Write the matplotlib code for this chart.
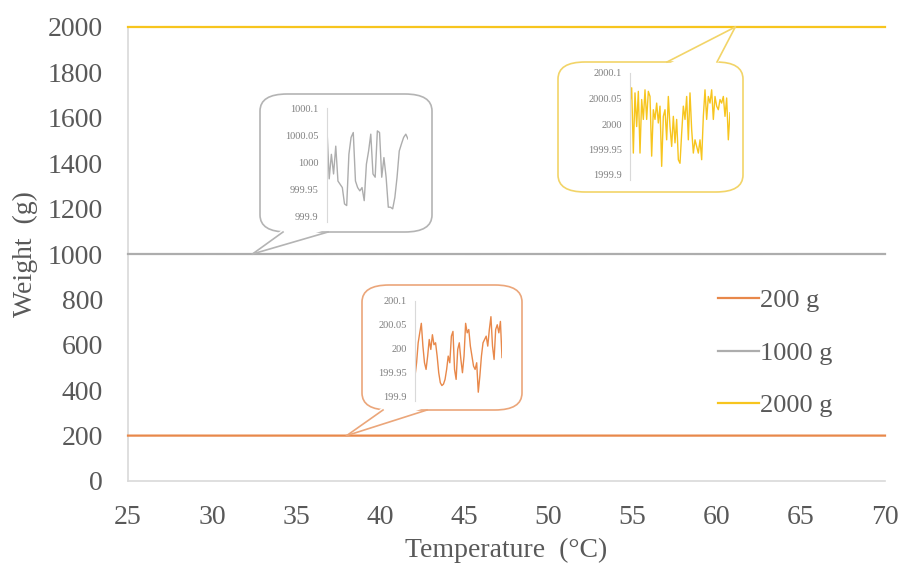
import numpy as np
import matplotlib
matplotlib.use("Agg")
import matplotlib.pyplot as plt
from matplotlib.patches import FancyBboxPatch, Polygon
from matplotlib.lines import Line2D

# weight readings (g)
w200 = [199.942, 199.970, 200.012, 200.033, 200.053, 200.005, 199.970, 199.956,
        199.984, 200.019, 199.998, 200.029, 200.008, 200.012, 199.984, 199.949,
        199.928, 199.922, 199.925, 199.935, 199.956, 199.984, 199.970, 200.026,
        200.036, 199.956, 199.935, 199.998, 200.012, 199.977, 199.949, 199.984,
        200.053, 200.033, 200.040, 200.005, 199.984, 199.963, 199.956, 199.970,
        199.908, 199.942, 199.984, 200.012, 200.019, 200.026, 200.005, 200.040,
        200.067, 200.005, 199.977, 200.040, 200.050, 200.033, 200.057, 199.981]
w1000 = [1000.061, 999.970, 1000.015, 999.979, 1000.030, 999.966, 999.960, 999.954,
         999.924, 999.921, 1000.015, 1000.046, 1000.055, 999.966, 999.954, 999.948,
         999.954, 999.930, 999.997, 1000.021, 1000.052, 999.979, 999.973, 1000.058,
         1000.055, 999.973, 1000.009, 999.973, 999.918, 999.918, 999.915, 999.936,
         999.973, 1000.021, 1000.034, 1000.046, 1000.052, 1000.043]
w2000 = [2000.041, 2000.071, 1999.943, 2000.061, 1999.995, 2000.064, 1999.943, 2000.048,
         2000.009, 2000.067, 2000.009, 2000.064, 2000.054, 1999.937, 2000.028, 2000.009,
         2000.041, 2000.002, 2000.035, 1999.917, 2000.015, 2000.028, 1999.969, 2000.054,
         1999.995, 1999.956, 2000.015, 1999.963, 2000.009, 1999.930, 1999.923, 1999.982,
         2000.035, 2000.009, 2000.054, 1999.969, 2000.061, 1999.989, 1999.943, 1999.969,
         1999.956, 1999.943, 1999.969, 1999.930, 2000.015, 2000.067, 2000.009, 2000.054,
         2000.041, 2000.067, 2000.009, 2000.054, 2000.035, 2000.028, 2000.048, 2000.041,
         2000.054, 2000.015, 2000.051, 1999.969, 2000.022]

labels = ["200 g", "1000 g", "2000 g"]
series = [w200, w1000, w2000]
colors = ["#E8884A", "#ADADAD", "#F7C51E"]
box_colors = ["#EBA67A", "#B4B4B4", "#F2D468"]
x_ticks = [25, 30, 35, 40, 45, 50, 55, 60, 65, 70]
y_ticks = [0, 200, 400, 600, 800, 1000, 1200, 1400, 1600, 1800, 2000]

plt.rcParams['font.family'] = ['Liberation Serif', 'DejaVu Serif']
txt = "#595959"

W, H = 905, 568
fig = plt.figure(figsize=(W / 100, H / 100), dpi=100)


def fx(px):
    return px / W


def fy(py):
    return 1 - py / H


ax = fig.add_axes([fx(128), fy(481), fx(885) - fx(128), fy(27) - fy(481)])
for w, lab, c in zip(series, labels, colors):
    t = np.linspace(25, 70, len(w))
    ax.plot(t, w, color=c, lw=1.6, label=lab, clip_on=False, zorder=3)

ax.set_xlim(25, 70)
ax.set_ylim(0, 2000)
ax.set_xticks(x_ticks)
ax.set_yticks(y_ticks)
ax.tick_params(length=0, labelsize=20, labelcolor=txt)
ax.tick_params(axis='x', pad=17)
ax.tick_params(axis='y', pad=18)
for s in ["top", "right"]:
    ax.spines[s].set_visible(False)
for s in ["left", "bottom"]:
    ax.spines[s].set_color("#D9D9D9")
    ax.spines[s].set_linewidth(1.2)
ax.set_xlabel("Temperature  (°C)", fontsize=20, color=txt, labelpad=6)
ax.set_ylabel("Weight  (g)", fontsize=20, color=txt, labelpad=7)

leg = ax.legend(frameon=False, fontsize=19, handlelength=1.55, handletextpad=0.05,
                labelspacing=1.1, borderpad=0, borderaxespad=0,
                loc='upper left', bbox_transform=fig.transFigure,
                bbox_to_anchor=(fx(718), fy(289)))
for t in leg.get_texts():
    t.set_color(txt)

# callouts: box (px), tail base x (px), tip in data coords, inner axes (px), ylim
callouts = [
    dict(i=1, box=(260, 94, 432, 232), base=(283, 328), side="bottom", tip=(32.4, 1000),
         inner=(327, 108, 408, 217), ylim=(999.9, 1000.1),
         yt=[999.9, 999.95, 1000, 1000.05, 1000.1]),
    dict(i=2, box=(558, 62, 743, 192), base=(667, 717), side="top", tip=(61.1, 2000),
         inner=(630, 73, 730, 175), ylim=(1999.9, 2000.1),
         yt=[1999.9, 1999.95, 2000, 2000.05, 2000.1]),
    dict(i=0, box=(362, 285, 522, 410), base=(383, 427), side="bottom", tip=(38.0, 200),
         inner=(415, 301, 502, 396), ylim=(199.9, 200.1),
         yt=[199.9, 199.95, 200, 200.05, 200.1]),
]

for co in callouts:
    i = co["i"]
    ec = box_colors[i]
    x0, y0, x1, y1 = co["box"]
    box = FancyBboxPatch((fx(x0), fy(y1)), fx(x1) - fx(x0), fy(y0) - fy(y1),
                         boxstyle="round,pad=0,rounding_size=0.03",
                         transform=fig.transFigure, fc="white", ec=ec, lw=1.2,
                         zorder=5)
    fig.patches.append(box)
    tip_px = ax.transData.transform(co["tip"])
    tipf = fig.transFigure.inverted().transform(tip_px)
    ey = y1 if co["side"] == "bottom" else y0
    inside = -3 if co["side"] == "bottom" else 3
    bx0, bx1 = co["base"]
    poly = Polygon([(fx(bx0), fy(ey + inside)), (fx(bx1), fy(ey + inside)), tuple(tipf)],
                   closed=True, transform=fig.transFigure, fc="white", ec="none",
                   zorder=6)
    fig.patches.append(poly)
    for bx in (bx0, bx1):
        fig.lines.append(Line2D([fx(bx), tipf[0]], [fy(ey), tipf[1]],
                                transform=fig.transFigure, color=ec, lw=1.2,
                                zorder=7))
    ix0, iy0, ix1, iy1 = co["inner"]
    iax = fig.add_axes([fx(ix0), fy(iy1), fx(ix1) - fx(ix0), fy(iy0) - fy(iy1)],
                       zorder=8)
    iax.patch.set_alpha(0)
    w = series[i]
    iax.plot(np.arange(len(w)), w, color=colors[i], lw=1)
    iax.set_xlim(0, len(w) - 1)
    iax.set_ylim(*co["ylim"])
    iax.set_yticks(co["yt"])
    iax.set_yticklabels([f"{v:g}" for v in co["yt"]])
    iax.set_xticks([])
    iax.tick_params(length=0, labelsize=7.5, labelcolor="#7F7F7F", pad=6)
    for s in ["top", "right", "bottom"]:
        iax.spines[s].set_visible(False)
    iax.spines["left"].set_color("#D9D9D9")
    iax.spines["left"].set_bounds(co["ylim"][0] - 0.01, co["ylim"][1])

fig.savefig("out.png", dpi=100)
